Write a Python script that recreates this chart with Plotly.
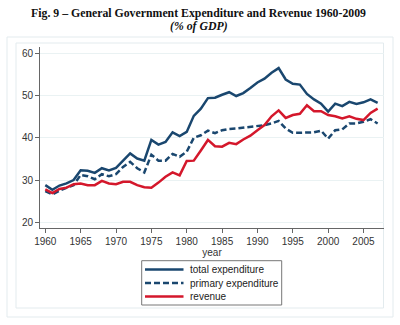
import plotly.graph_objects as go

years = list(range(1960, 2008))

total_expenditure = [28.8, 27.7, 28.7, 29.2, 30.0, 32.3, 32.2, 31.7, 32.8, 32.3,
                     32.9, 34.7, 36.3, 35.1, 34.6, 39.5, 38.4, 39.0, 41.3, 40.4,
                     41.4, 45.2, 46.9, 49.4, 49.5, 50.2, 50.8, 49.9, 50.6, 51.8,
                     53.1, 54.0, 55.4, 56.5, 53.8, 52.8, 52.6, 50.4, 49.1, 48.1,
                     46.2, 48.1, 47.5, 48.5, 48.0, 48.4, 49.1, 48.3]

primary_expenditure = [27.4, 26.6, 27.5, 28.2, 28.8, 31.2, 30.9, 30.2, 31.4, 30.9,
                       31.4, 33.1, 34.3, 32.8, 31.8, 36.0, 34.6, 34.6, 36.2, 35.5,
                       36.7, 40.0, 40.6, 41.7, 41.1, 41.8, 42.1, 42.2, 42.4, 42.7,
                       42.9, 43.0, 43.4, 44.0, 42.2, 41.2, 41.2, 41.2, 41.3, 41.7,
                       39.8, 41.8, 42.0, 43.4, 43.4, 43.8, 44.4, 43.4]

revenue = [27.8, 26.9, 27.9, 28.2, 29.0, 29.2, 28.8, 28.8, 29.8, 29.2,
           29.0, 29.6, 29.6, 28.8, 28.3, 28.2, 29.4, 30.8, 31.8, 31.1,
           34.5, 34.6, 37.0, 39.5, 38.0, 37.9, 38.8, 38.5, 39.6, 40.5,
           41.8, 43.0, 45.1, 46.5, 44.7, 45.4, 45.7, 47.7, 46.3, 46.3,
           45.4, 45.1, 44.6, 45.1, 44.5, 44.2, 45.9, 46.9]

series_names = ["total expenditure", "primary expenditure", "revenue"]
y_ticks = [20, 30, 40, 50, 60]
x_ticks = [1960, 1965, 1970, 1975, 1980, 1985, 1990, 1995, 2000, 2005]
title_line1 = "Fig. 9 – General Government Expenditure and Revenue 1960-2009"
title_line2 = "(% of GDP)"

NAVY = "#1a476f"
RED = "#d4172b"
BOX = "#e3ebee"
series_styles = [dict(color=NAVY, width=2.5, dash="solid"),
                 dict(color=NAVY, width=2.5, dash="6px,3px"),
                 dict(color=RED, width=2.5, dash="solid")]
series_values = [total_expenditure, primary_expenditure, revenue]

fig = go.Figure()
for name, vals, style in zip(series_names, series_values, series_styles):
    fig.add_trace(go.Scatter(x=years, y=vals, mode="lines", name=name,
                             line=style, showlegend=False))

# plot area in pixels: x 40..384, y 47..228
L, R, T, B = 40, 384, 47, 228
W, H = R - L, B - T

def px(xp):
    return (xp - L) / W

def py(yp):
    return (B - yp) / H

fig.update_layout(
    width=400, height=325,
    margin=dict(l=L, r=400 - R, t=T, b=325 - B, pad=0, autoexpand=False),
    paper_bgcolor="white", plot_bgcolor="white",
    font=dict(family="Liberation Sans, Arial, sans-serif", size=10, color="#333"),
    showlegend=False,
    xaxis=dict(range=[1959.25, 2007.9], tickmode="array", tickvals=x_ticks,
               showgrid=False, zeroline=False, showline=True, linecolor="#666",
               linewidth=1, ticks="outside", ticklen=4, tickcolor="#666",
               tickfont=dict(size=10, color="#333"),
               title=dict(text="year", font=dict(size=10, color="#333"), standoff=2)),
    yaxis=dict(range=[18.65, 61.5], tickmode="array", tickvals=y_ticks,
               showgrid=True, gridcolor="#eaf2f3", gridwidth=1, zeroline=False,
               showline=True, linecolor="#666", linewidth=1,
               ticks="outside", ticklen=4, tickcolor="#666",
               tickfont=dict(size=10, color="#333")),
)

# frame boxes (outer graph region and inner region)
fig.add_shape(type="rect", xref="paper", yref="paper",
              x0=px(7), x1=px(393), y0=py(317), y1=py(37),
              line=dict(color=BOX, width=1), layer="below")
fig.add_shape(type="rect", xref="paper", yref="paper",
              x0=px(16), x1=px(383.5), y0=py(308), y1=py(43),
              line=dict(color=BOX, width=1), layer="below")

# legend (drawn in paper space, Stata style, compact rows)
fig.add_shape(type="rect", xref="paper", yref="paper",
              x0=px(141.7), x1=px(281.7), y0=py(305), y1=py(260.7),
              line=dict(color="#777", width=1), fillcolor="white")
row_y = [269.5, 283.0, 296.5]
for name, style, ry in zip(series_names, series_styles, row_y):
    fig.add_shape(type="line", xref="paper", yref="paper",
                  x0=px(145), x1=px(183.5), y0=py(ry), y1=py(ry),
                  line=style)
    fig.add_annotation(text=name, xref="paper", yref="paper",
                       x=px(188), y=py(ry), xanchor="left", yanchor="middle",
                       showarrow=False, font=dict(size=10, color="#222"))

fig.add_annotation(text="<b>" + title_line1 + "</b>", xref="paper", yref="paper",
                   x=px(198.5), y=py(12.5), xanchor="center", yanchor="middle",
                   showarrow=False,
                   font=dict(family="Liberation Serif, Times New Roman, serif", size=11.8, color="#111"))
fig.add_annotation(text="<b><i>" + title_line2 + "</i></b>", xref="paper", yref="paper",
                   x=px(198.5), y=py(25.5), xanchor="center", yanchor="middle",
                   showarrow=False,
                   font=dict(family="Liberation Serif, Times New Roman, serif", size=11.8, color="#111"))

fig.write_html("out.html")
